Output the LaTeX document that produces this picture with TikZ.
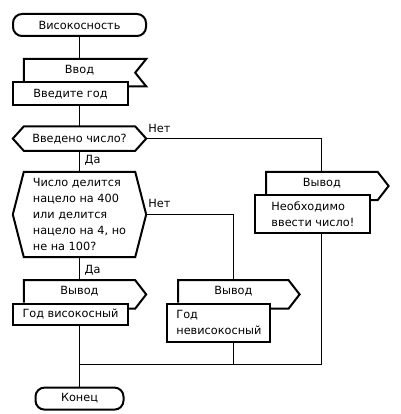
\documentclass[tikz,border=0pt]{standalone}
\usepackage{fontspec}
\setmainfont{DejaVu Sans}
\usetikzlibrary{positioning}

\begin{document}
\begin{tikzpicture}[
    every node/.style={font=\fontsize{11.3pt}{16pt}\selectfont, inner sep=2pt},
    term/.style={rectangle, draw, line width=2pt, rounded corners=9pt, minimum width=133pt, minimum height=22pt},
    decision/.style={rectangle, minimum width=133pt, align=left},
    iohead/.style={rectangle, minimum width=111pt, minimum height=22pt},
    iobox/.style={rectangle, draw, fill=white, line width=2pt, minimum width=115pt, minimum height=21pt, align=left},
    outline/.style={line width=2pt, line join=miter},
    line/.style={line width=1pt}
]
\useasboundingbox (0,0) rectangle (400pt,-414pt);

% Start
\node[term] (start) at (79.5pt,-25pt) {Високосность};

% Input
\node[iohead, below=22pt of start] (inhead) {Ввод};
\draw[outline] (inhead.south west) -- (inhead.north west) -- ([xshift=11pt]inhead.north east)
    -- ([yshift=-2.5pt]inhead.east) -- ([xshift=11pt,yshift=-5pt]inhead.south east) -- ([yshift=-5pt]inhead.south);
\node[iobox, below=0pt of inhead, xshift=-9pt, minimum height=23pt] (inbox) {Введите год};

% Decisions
\node[decision, below=20pt of inbox, xshift=9pt, minimum height=24pt] (dec1) {Введено число?};
\draw[outline] (dec1.west) -- ([xshift=11pt]dec1.north west) -- ([xshift=-11pt]dec1.north east) -- (dec1.east)
    -- ([xshift=-11pt]dec1.south east) -- ([xshift=11pt]dec1.south west) -- cycle;
\node[decision, below=21pt of dec1, minimum height=85pt] (dec2) {Число делится\\нацело на 400\\или делится\\нацело на 4, но\\не на 100?};
\draw[outline] (dec2.west) -- ([xshift=11pt]dec2.north west) -- ([xshift=-11pt]dec2.north east) -- (dec2.east)
    -- ([xshift=-11pt]dec2.south east) -- ([xshift=11pt]dec2.south west) -- cycle;

% Output: error
\node[iohead, below right=21pt and 120pt of dec1] (errhead) {Вывод};
\draw[outline] (errhead.south west) -- (errhead.north west) -- (errhead.north east)
    -- ([xshift=11pt,yshift=-3pt]errhead.east) -- ([yshift=-6pt]errhead.south east) -- ([yshift=-6pt]errhead.south);
\node[iobox, below=0pt of errhead, xshift=-9pt, minimum height=38pt] (errbox) {Необходимо\\ввести число!};

% Output: leap year
\node[iohead, below=23pt of dec2] (yeshead) {Вывод};
\draw[outline] (yeshead.south west) -- (yeshead.north west) -- (yeshead.north east)
    -- ([xshift=11pt,yshift=-3pt]yeshead.east) -- ([yshift=-6pt]yeshead.south east) -- ([yshift=-6pt]yeshead.south);
\node[iobox, below=0pt of yeshead, xshift=-9pt] (yesbox) {Год високосный};

% Output: not a leap year
\node[iohead, below right=23pt and 32pt of dec2, minimum width=110pt] (nohead) {Вывод};
\draw[outline] (nohead.south west) -- (nohead.north west) -- (nohead.north east)
    -- ([xshift=11pt,yshift=-3pt]nohead.east) -- ([yshift=-6pt]nohead.south east) -- ([yshift=-6pt]nohead.south);
\node[iobox, below=0pt of nohead, xshift=-14.5pt, minimum width=103pt, minimum height=38pt] (nobox) {Год\\невисокосный};

% End
\node[term, below=61pt of yesbox, xshift=9pt, minimum width=88pt] (end) {Конец};
\coordinate[above=22pt of end] (merge);

% Lines
\draw[line] (start) -- (inhead);
\draw[line] (inbox.south -| dec1) -- (dec1);
\draw[line] (dec1) -- (dec2);
\draw[line] (dec2) -- (yeshead);
\draw[line] (dec1) -| (errhead);
\draw[line] (dec2) -| (nohead);
\draw[line] (yesbox.south -| end) -- (end);
\draw[line] (errbox.south -| errhead) |- (merge);
\draw[line] (nobox.south -| nohead) -- (nohead |- merge);

% Labels
\node[anchor=base west, inner sep=0pt] (no1) at ([xshift=2pt,yshift=6pt]dec1.east) {Нет};
\node[anchor=base west, inner sep=0pt] (no2) at ([xshift=2pt,yshift=7pt]dec2.east) {Нет};
\node[anchor=base west, inner sep=0pt] (yes1) at ([xshift=5pt,yshift=8pt]dec2.north) {Да};
\node[anchor=base west, inner sep=0pt] (yes2) at ([xshift=5pt,yshift=7pt]yeshead.north) {Да};

\end{tikzpicture}
\end{document}
